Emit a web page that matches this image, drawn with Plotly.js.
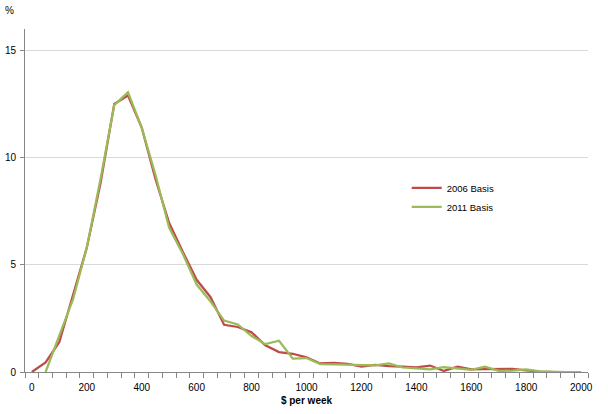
<!DOCTYPE html>
<html>
<head>
<meta charset="utf-8">
<script src="https://cdn.plot.ly/plotly-3.0.1.min.js"></script>
<style>
  html, body { margin: 0; padding: 0; background: #fff; }
  #chart { width: 608px; height: 414px; }
</style>
</head>
<body>
<div id="chart"></div>
<script>
// $ per week categories
const incomeBands = [0, 50, 100, 150, 200, 250, 300, 350, 400, 450, 500, 550, 600, 650, 700, 750, 800, 850, 900, 950,
  1000, 1050, 1100, 1150, 1200, 1250, 1300, 1350, 1400, 1450, 1500, 1550, 1600, 1650, 1700, 1750, 1800, 1850, 1900, 1950, 2000];

// % of persons, 2006 basis
const basis2006 = [0, 0.45, 1.4, 3.55, 5.8, 8.8, 12.5, 12.9, 11.4, 9.0, 6.95, 5.6, 4.3, 3.5, 2.2, 2.1, 1.85, 1.25, 0.93, 0.85,
  0.68, 0.4, 0.43, 0.38, 0.25, 0.33, 0.27, 0.25, 0.22, 0.3, 0.05, 0.25, 0.12, 0.13, 0.15, 0.15, 0.08, 0.02, 0, 0, 0];

// % of persons, 2011 basis
const basis2011 = [null, 0, 1.7, 3.4, 5.8, 9.0, 12.45, 13.05, 11.4, 9.2, 6.73, 5.5, 4.08, 3.3, 2.4, 2.22, 1.68, 1.3, 1.46, 0.62,
  0.65, 0.37, 0.36, 0.34, 0.3, 0.31, 0.4, 0.21, 0.17, 0.12, 0.23, 0.17, 0.1, 0.25, 0.05, 0.06, 0.12, 0.03, 0, 0, 0];

const xTickVals = [0, 200, 400, 600, 800, 1000, 1200, 1400, 1600, 1800, 2000];
const yTickVals = [0, 5, 10, 15];

const FONT = 'Liberation Sans, Arial, sans-serif';

const traces = [
  {
    x: incomeBands, y: basis2006, name: '2006 Basis', type: 'scatter', mode: 'lines',
    line: { color: '#BE4B48', width: 2.25 }
  },
  {
    x: incomeBands, y: basis2011, name: '2011 Basis', type: 'scatter', mode: 'lines',
    line: { color: '#9BBB59', width: 2.25 }, connectgaps: false
  }
];

const layout = {
  width: 608, height: 414,
  margin: { l: 24.7, r: 19.5, t: 29, b: 41.7 },
  paper_bgcolor: '#ffffff', plot_bgcolor: '#ffffff',
  font: { family: FONT, size: 10, color: '#000000' },
  showlegend: true,
  legend: {
    x: 0.678, y: 0.579, xanchor: 'left', yanchor: 'top',
    bgcolor: 'rgba(0,0,0,0)', font: { family: FONT, size: 9.5, color: '#000' },
    tracegroupgap: 0
  },
  xaxis: {
    range: [-25, 2025], fixedrange: true,
    tickvals: xTickVals, ticktext: xTickVals.map(String),
    ticks: '', showgrid: false, zeroline: false,
    showline: true, linecolor: '#868686', linewidth: 1,
    tickfont: { family: FONT, size: 10, color: '#000' },
    ticklabelstandoff: 6,
    minor: { tick0: -25, dtick: 50, ticks: 'outside', ticklen: 5, tickcolor: '#868686', tickwidth: 1, showgrid: false },
    title: { text: '$ per week', font: { family: FONT, size: 10, color: '#000', weight: 'bold' }, standoff: 4 }
  },
  yaxis: {
    range: [0, 16], fixedrange: true,
    tickvals: yTickVals, ticks: 'outside', ticklen: 4, tickcolor: '#868686', tickwidth: 1,
    showgrid: true, gridcolor: '#D9D9D9', gridwidth: 1, zeroline: false,
    showline: true, linecolor: '#868686', linewidth: 1,
    tickfont: { family: FONT, size: 10, color: '#000' },
    ticklabelstandoff: 2
  },
  annotations: [
    {
      text: '%', xref: 'paper', yref: 'paper', x: -0.028, y: 1.055,
      xanchor: 'center', yanchor: 'middle', showarrow: false,
      font: { family: FONT, size: 10, color: '#000' }
    }
  ]
};

Plotly.newPlot('chart', traces, layout, { displayModeBar: false, staticPlot: true });
</script>
</body>
</html>
